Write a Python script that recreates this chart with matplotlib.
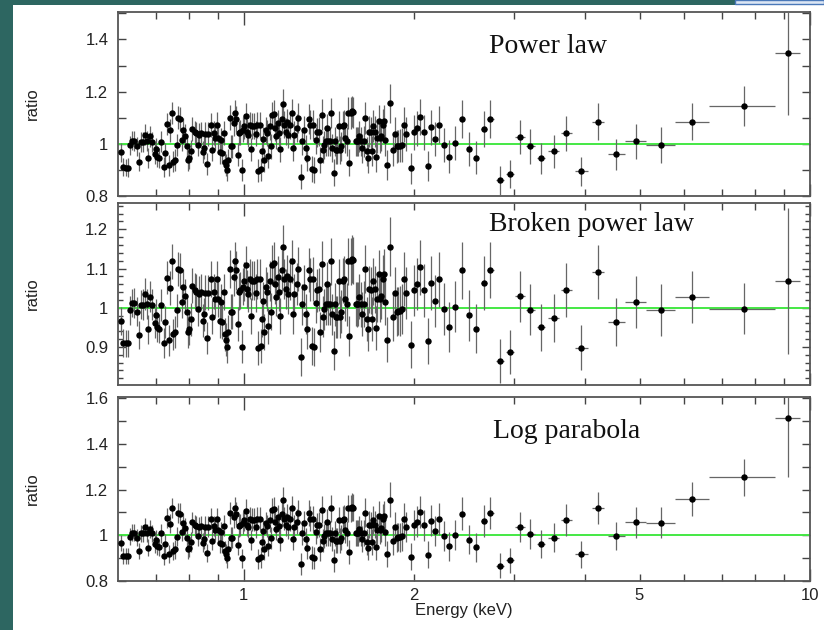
import matplotlib.pyplot as plt
from matplotlib.patches import Rectangle
from matplotlib.ticker import FixedLocator, FixedFormatter, MultipleLocator, FuncFormatter, NullFormatter

plt.rcParams['font.family'] = ['Liberation Sans', 'DejaVu Sans']

# ---- data ----
# 0.6 - 2.6 keV: fine binning, the residuals look the same in all three panels
energy = [
    0.607, 0.613, 0.619, 0.624, 0.629, 0.635, 0.641, 0.647, 0.654, 0.659,
    0.665, 0.670, 0.674, 0.678, 0.684, 0.690, 0.696, 0.700, 0.704, 0.710,
    0.716, 0.722, 0.727, 0.732, 0.738, 0.742, 0.747, 0.751, 0.757, 0.762,
    0.766, 0.772, 0.778, 0.782, 0.787, 0.793, 0.798, 0.802, 0.807, 0.812,
    0.819, 0.823, 0.829, 0.834, 0.840, 0.846, 0.850, 0.855, 0.860, 0.865,
    0.875, 0.880, 0.885, 0.890, 0.896, 0.902, 0.907, 0.912, 0.917, 0.923,
    0.927, 0.932, 0.936, 0.940, 0.945, 0.950, 0.955, 0.960, 0.965, 0.971,
    0.976, 0.981, 0.987, 0.992, 0.997, 1.003, 1.008, 1.014, 1.019, 1.025,
    1.030, 1.036, 1.043, 1.050, 1.056, 1.061, 1.067, 1.073, 1.079, 1.083,
    1.088, 1.093, 1.099, 1.105, 1.111, 1.117, 1.123, 1.130, 1.136, 1.142,
    1.148, 1.154, 1.161, 1.167, 1.173, 1.180, 1.186, 1.193, 1.199, 1.206,
    1.215, 1.222, 1.229,
    1.240, 1.249, 1.261, 1.269, 1.278, 1.287, 1.295, 1.304, 1.311, 1.319,
    1.326, 1.333, 1.340, 1.349, 1.358, 1.366, 1.373, 1.380, 1.388, 1.395,
    1.403, 1.410, 1.418, 1.426, 1.433, 1.441, 1.449, 1.457, 1.464, 1.472,
    1.480, 1.488, 1.496, 1.504, 1.512, 1.521, 1.529, 1.537, 1.545, 1.554,
    1.563, 1.576, 1.584, 1.593, 1.601, 1.610, 1.619, 1.630, 1.641, 1.650,
    1.659, 1.668, 1.677, 1.686, 1.695, 1.704, 1.713, 1.723, 1.732, 1.741,
    1.751, 1.760, 1.770, 1.780, 1.792,
    1.816, 1.834, 1.848, 1.863, 1.874, 1.889, 1.904, 1.920, 1.935, 1.973,
    2.000, 2.027, 2.049, 2.083, 2.117, 2.146, 2.181, 2.211, 2.256, 2.303,
    2.366, 2.431, 2.497, 2.572,
]
ratio = [
    0.967, 0.910, 0.909, 0.909, 0.994, 1.012, 1.012, 0.990, 0.931, 1.008,
    1.008, 1.035, 1.010, 0.945, 1.028, 1.008, 0.962, 0.981, 0.951, 0.947,
    1.008, 0.910, 0.964, 1.076, 0.917, 1.051, 1.118, 0.932, 0.938, 0.994,
    1.099, 1.095, 1.015, 1.054, 1.031, 0.990, 0.938, 0.945, 0.971, 1.056,
    1.044, 1.041, 0.996, 1.035, 1.041, 0.967, 0.983, 1.038, 0.923, 1.038,
    1.073, 0.977, 1.041, 1.022, 1.073, 1.022, 0.967, 1.015, 0.964, 1.041,
    0.932, 0.919, 0.900, 0.938, 1.099, 0.990, 0.990, 1.079, 1.118, 1.095,
    0.958, 1.041, 1.044, 0.900, 1.054, 1.067, 1.108, 1.047, 1.035, 1.073,
    0.979, 1.069, 1.069, 1.038, 1.073, 0.897, 1.073, 0.903, 0.971, 1.018,
    0.938, 1.054, 1.041, 0.954, 1.067, 0.990, 1.109, 1.114, 1.060, 1.028,
    1.079, 1.041, 0.979, 1.095, 1.154, 1.073, 1.047, 1.082, 1.035, 1.073,
    1.118, 0.983, 1.035,
    1.060, 1.099, 0.874, 1.009, 1.054, 0.983, 0.945, 1.096, 1.073, 0.903,
    1.073, 0.900, 1.013, 1.044, 1.047, 0.938, 1.112, 0.977, 0.996, 1.009,
    1.060, 1.009, 1.009, 1.118, 0.983, 0.890, 1.009, 0.977, 0.977, 1.067,
    0.977, 0.990, 1.069, 1.073, 1.022, 1.009, 1.118, 0.928, 1.118, 1.124,
    1.121, 1.009, 1.009, 1.009, 1.028, 1.009, 0.983, 1.009, 1.099, 0.971,
    0.945, 1.047, 1.044, 0.971, 1.067, 1.047, 0.949, 1.022, 1.086, 1.022,
    1.031, 1.073, 1.086, 1.015, 0.919,
    1.156, 0.977, 1.038, 0.990, 0.992, 0.992, 0.996, 1.073, 1.038, 0.906,
    1.044, 1.060, 1.103, 1.044, 0.915, 1.063, 1.018, 1.073, 0.996, 0.951,
    1.003, 1.095, 0.981, 0.947,
]
ratio_err = [
    0.036, 0.035, 0.034, 0.035, 0.037, 0.036, 0.038, 0.037, 0.036, 0.038,
    0.039, 0.040, 0.038, 0.037, 0.040, 0.039, 0.038, 0.040, 0.039, 0.038,
    0.041, 0.039, 0.040, 0.042, 0.039, 0.043, 0.044, 0.040, 0.041, 0.042,
    0.044, 0.045, 0.042, 0.044, 0.043, 0.042, 0.041, 0.041, 0.042, 0.045,
    0.044, 0.044, 0.043, 0.045, 0.044, 0.042, 0.043, 0.045, 0.041, 0.045,
    0.046, 0.043, 0.045, 0.044, 0.047, 0.045, 0.043, 0.045, 0.043, 0.046,
    0.042, 0.042, 0.041, 0.043, 0.048, 0.045, 0.045, 0.048, 0.050, 0.049,
    0.044, 0.047, 0.047, 0.042, 0.048, 0.049, 0.050, 0.048, 0.047, 0.050,
    0.045, 0.050, 0.049, 0.048, 0.050, 0.043, 0.050, 0.044, 0.046, 0.048,
    0.045, 0.050, 0.049, 0.046, 0.051, 0.048, 0.052, 0.053, 0.050, 0.049,
    0.052, 0.050, 0.047, 0.053, 0.056, 0.052, 0.051, 0.053, 0.050, 0.053,
    0.055, 0.049, 0.052,
    0.054, 0.056, 0.048, 0.052, 0.054, 0.051, 0.050, 0.057, 0.055, 0.049,
    0.056, 0.049, 0.053, 0.055, 0.055, 0.051, 0.058, 0.052, 0.053, 0.054,
    0.056, 0.054, 0.054, 0.059, 0.053, 0.050, 0.055, 0.053, 0.053, 0.058,
    0.054, 0.055, 0.058, 0.058, 0.056, 0.055, 0.060, 0.052, 0.060, 0.061,
    0.060, 0.056, 0.057, 0.056, 0.058, 0.057, 0.056, 0.058, 0.062, 0.056,
    0.055, 0.060, 0.059, 0.057, 0.061, 0.060, 0.056, 0.059, 0.062, 0.059,
    0.060, 0.062, 0.063, 0.060, 0.057,
    0.075, 0.062, 0.065, 0.063, 0.062, 0.063, 0.064, 0.068, 0.066, 0.060,
    0.066, 0.067, 0.070, 0.067, 0.058, 0.068, 0.066, 0.070, 0.066, 0.063,
    0.066, 0.072, 0.065, 0.063,
]

# above 2.6 keV: wide bins, one set of ratios per model
hi_energy = [2.653, 2.727, 2.832, 2.949, 3.080, 3.208, 3.350, 3.526, 3.713,
             3.947, 4.222, 4.536, 4.934, 5.454, 6.193, 7.648, 9.135]
hi_lo = [2.62, 2.69, 2.79, 2.90, 3.02, 3.15, 3.29, 3.45, 3.63,
         3.85, 4.12, 4.40, 4.71, 5.13, 5.77, 6.62, 8.66]
hi_up = [2.69, 2.77, 2.88, 3.00, 3.14, 3.27, 3.41, 3.60, 3.80,
         4.05, 4.33, 4.72, 5.13, 5.77, 6.62, 8.66, 9.62]

pl_ratio = [1.057, 1.094, 0.860, 0.885, 1.026, 0.990, 0.945, 0.971, 1.041,
            0.894, 1.085, 0.960, 1.009, 0.996, 1.085, 1.145, 1.347]
pl_err = [0.070, 0.072, 0.055, 0.054, 0.064, 0.067, 0.059, 0.062, 0.067,
          0.056, 0.070, 0.060, 0.068, 0.068, 0.071, 0.077, 0.235]

bpl_ratio = [1.062, 1.097, 0.864, 0.888, 1.029, 0.995, 0.950, 0.974, 1.046,
             0.898, 1.091, 0.964, 1.015, 0.995, 1.027, 0.997, 1.068]
bpl_err = [0.069, 0.071, 0.057, 0.056, 0.065, 0.065, 0.060, 0.061, 0.069,
           0.058, 0.069, 0.062, 0.066, 0.066, 0.067, 0.065, 0.185]

lp_ratio = [1.061, 1.098, 0.866, 0.891, 1.036, 1.004, 0.961, 0.990, 1.066,
            0.917, 1.120, 0.997, 1.057, 1.054, 1.159, 1.253, 1.515]
lp_err = [0.070, 0.070, 0.055, 0.055, 0.064, 0.066, 0.062, 0.064, 0.069,
          0.058, 0.071, 0.063, 0.067, 0.068, 0.075, 0.081, 0.260]

titles = ['Power law', 'Broken power law', 'Log parabola']
hi_ratios = [pl_ratio, bpl_ratio, lp_ratio]
hi_errs = [pl_err, bpl_err, lp_err]
ylims = [(0.8, 1.505), (0.803, 1.267), (0.8, 1.605)]
y_major = [0.2, 0.1, 0.2]
y_minor = [0.1, 0.02, 0.1]

# ---- figure, sitting on a slide background ----
W, H = 824, 630
fig = plt.figure(figsize=(W / 100, H / 100), dpi=100)
fig.patch.set_facecolor('#2d6661')
fig.add_artist(Rectangle((13 / W, 0), 1, 1 - 5 / H, transform=fig.transFigure,
                         facecolor='white', edgecolor='none', zorder=-1))
fig.add_artist(Rectangle((735 / W, 1 - 4 / H), 89 / W, 4 / H, transform=fig.transFigure,
                         facecolor='#dce6f4', edgecolor='#4a78b8', lw=1, zorder=-1))

# panel boxes in pixels: (top, bottom)
boxes = [(12, 196), (203, 385), (397, 581)]
left, right = 118, 810
title_pos = [(0.536, 0.815), (0.536, 0.88), (0.542, 0.815)]

xerr_lo = [e - l for e, l in zip(hi_energy, hi_lo)]
xerr_up = [u - e for e, u in zip(hi_energy, hi_up)]

axes = []
for i in range(3):
    top, bot = boxes[i]
    ax = fig.add_axes([left / W, 1 - bot / H, (right - left) / W, (bot - top) / H])
    axes.append(ax)

    ax.axhline(1.0, color='#44e844', lw=1.4, zorder=2)
    ax.errorbar(energy, ratio, yerr=ratio_err, fmt='o', ms=3.6, color='black',
                ecolor='#666666', elinewidth=0.9, capsize=0, zorder=3)
    ax.errorbar(hi_energy, hi_ratios[i], yerr=hi_errs[i], xerr=[xerr_lo, xerr_up],
                fmt='o', ms=3.6, color='black', ecolor='#666666', elinewidth=0.9,
                capsize=0, zorder=3)

    ax.set_xscale('log')
    ax.set_xlim(0.6, 10)
    ax.set_ylim(*ylims[i])

    ax.xaxis.set_major_locator(FixedLocator([1, 10]))
    ax.xaxis.set_minor_locator(FixedLocator([0.7, 0.8, 0.9, 2, 3, 4, 5, 6, 7, 8, 9]))
    ax.yaxis.set_major_locator(MultipleLocator(y_major[i]))
    ax.yaxis.set_minor_locator(MultipleLocator(y_minor[i]))
    ax.yaxis.set_major_formatter(FuncFormatter(lambda v, p: f'{v:g}'))

    if i == 2:
        ax.xaxis.set_major_formatter(FixedFormatter(['1', '10']))
        ax.xaxis.set_minor_formatter(FixedFormatter(['', '', '', '2', '', '', '5', '', '', '', '']))
    else:
        ax.xaxis.set_major_formatter(NullFormatter())
        ax.xaxis.set_minor_formatter(NullFormatter())

    ax.tick_params(which='both', direction='in', top=True, right=True,
                   color='#444444', width=1, labelsize=12, labelcolor='#222222')
    ax.tick_params(axis='x', which='major', length=9, pad=5)
    ax.tick_params(axis='x', which='minor', length=5, pad=5)
    ax.tick_params(axis='y', which='major', length=6, pad=7)
    ax.tick_params(axis='y', which='minor', length=6 if i != 1 else 3.5)

    for s in ax.spines.values():
        s.set_color('#555555')
        s.set_linewidth(1.3)

    ax.set_ylabel('ratio', fontsize=12, color='#222222')
    ax.yaxis.set_label_coords(-(left - 32) / (right - left), 0.5)
    ax.yaxis.label.set_va('center')

    ax.text(title_pos[i][0], title_pos[i][1], titles[i], transform=ax.transAxes,
            ha='left', va='center', fontsize=20, color='#111111',
            family=['Liberation Serif', 'DejaVu Serif'])

axes[2].set_xlabel('Energy (keV)', fontsize=12, color='#222222')
axes[2].xaxis.set_label_coords(0.5, -0.158)
axes[2].xaxis.label.set_va('center')

fig.savefig('out.png', dpi=100, facecolor=fig.get_facecolor())
